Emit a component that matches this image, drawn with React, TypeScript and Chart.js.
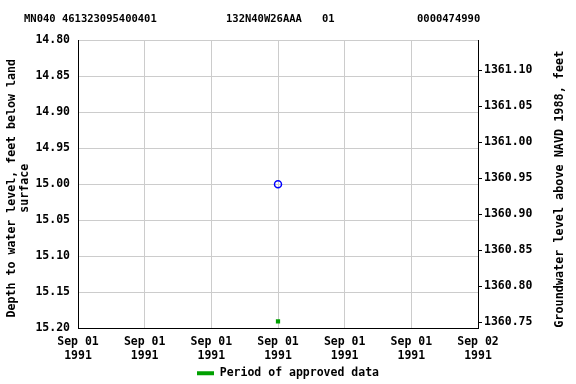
import React, { useEffect, useRef } from "react";
import { Chart, registerables } from "chart.js";

Chart.register(...registerables);

const headerParts = ["MN040 461323095400401", "132N40W26AAA", "01", "0000474990"];
const headerX = [24, 226, 322, 417];

const xTickHours = [0, 4, 8, 12, 16, 20, 24];
const xTickLabels = [
  ["Sep 01", "1991"],
  ["Sep 01", "1991"],
  ["Sep 01", "1991"],
  ["Sep 01", "1991"],
  ["Sep 01", "1991"],
  ["Sep 01", "1991"],
  ["Sep 02", "1991"],
];

const depthMin = 14.8;
const depthMax = 15.2;
const datumOffset = 1375.9417; // elevation = offset - depth
const rightTicks = [1360.75, 1360.8, 1360.85, 1360.9, 1360.95, 1361.0, 1361.05, 1361.1];
const leftTitle = ["Depth to water level, feet below land", "surface"];
const rightTitle = "Groundwater level above NAVD 1988, feet";

const measuredHours = [12];
const measuredDepths = [15.0];
const approvedHours = [12];
const approvedDepths = [15.19];

const FONT = "'DejaVu Sans Mono', monospace";
const FS = 11.5;

export default function App() {
  const ref = useRef<HTMLCanvasElement | null>(null);

  useEffect(() => {
    if (!ref.current) return;
    const textPlugin = {
      id: "extraText",
      afterDraw(chart: any) {
        const ctx = chart.ctx;
        const ca = chart.chartArea;
        const midY = (ca.top + ca.bottom) / 2;
        ctx.save();
        ctx.font = `bold 10.5px ${FONT}`;
        ctx.fillStyle = "#000";
        ctx.textBaseline = "middle";
        ctx.textAlign = "left";
        headerParts.forEach((t, i) => ctx.fillText(t, headerX[i], 19));
        ctx.textAlign = "center";
        // left axis title
        ctx.save();
        ctx.font = `bold 11.6px ${FONT}`;
        ctx.translate(12, midY + 4);
        ctx.rotate(-Math.PI / 2);
        ctx.fillText(leftTitle[0], 0, 0);
        ctx.fillText(leftTitle[1], 0, 13);
        ctx.restore();
        // right axis title
        ctx.font = `bold 11.8px ${FONT}`;
        ctx.translate(560, midY + 5);
        ctx.rotate(-Math.PI / 2);
        ctx.fillText(rightTitle, 0, 0);
        ctx.restore();
      },
    };

    const chart = new Chart(ref.current, {
      type: "scatter",
      data: {
        datasets: [
          {
            label: "Measured",
            data: measuredHours.map((h, i) => ({ x: h, y: measuredDepths[i] })),
            pointStyle: "circle",
            pointRadius: 3.5,
            pointBorderColor: "#0000ff",
            pointBackgroundColor: "rgba(0,0,0,0)",
            pointBorderWidth: 1.5,
            showLine: false,
          },
          {
            label: "Period of approved data",
            data: approvedHours.map((h, i) => ({ x: h, y: approvedDepths[i] })),
            pointStyle: "rect",
            pointRadius: 3,
            pointBorderWidth: 0,
            pointBackgroundColor: "#00a000",
            pointBorderColor: "#00a000",
            showLine: false,
          },
        ],
      },
      options: {
        responsive: false,
        animation: false,
        layout: { padding: { top: 40, left: 0, right: 0, bottom: -5 } },
        plugins: {
          tooltip: { enabled: false },
          title: { display: false },
          legend: {
            display: true,
            position: "bottom",
            labels: {
              font: { family: FONT, size: FS, weight: "bold" },
              color: "#000",
              boxWidth: 17,
              boxHeight: 4,
              padding: 1,
              generateLabels: () => [
                {
                  text: "Period of approved data",
                  fillStyle: "#00a000",
                  strokeStyle: "#00a000",
                  lineWidth: 0,
                  hidden: false,
                  datasetIndex: 1,
                },
              ],
            },
          },
        },
        scales: {
          x: {
            type: "linear",
            min: 0,
            max: 24,
            afterBuildTicks: (s: any) => {
              s.ticks = xTickHours.map((v) => ({ value: v }));
            },
            afterFit: (s: any) => {
              s.height = 38;
            },
            ticks: {
              autoSkip: false,
              maxRotation: 0,
              padding: 7,
              color: "#000",
              font: { family: FONT, size: FS, weight: "bold" },
              callback: (v: any) => {
                const i = xTickHours.indexOf(Number(v));
                return i >= 0 ? xTickLabels[i] : "";
              },
            },
            grid: { color: "#cccccc", drawTicks: false, lineWidth: 1 },
            border: { color: "#000", width: 1 },
          },
          y: {
            type: "linear",
            position: "left",
            reverse: true,
            min: depthMin,
            max: depthMax,
            afterFit: (s: any) => {
              s.width = 78;
            },
            ticks: {
              stepSize: 0.05,
              padding: 8,
              color: "#000",
              font: { family: FONT, size: FS, weight: "bold" },
              callback: (v: any) => Number(v).toFixed(2),
            },
            grid: { color: "#cccccc", drawTicks: false, lineWidth: 1 },
            border: { color: "#000", width: 1 },
          },
          y2: {
            type: "linear",
            position: "right",
            min: datumOffset - depthMax,
            max: datumOffset - depthMin,
            afterBuildTicks: (s: any) => {
              s.ticks = rightTicks.map((v) => ({ value: v }));
            },
            afterFit: (s: any) => {
              s.width = 98;
            },
            ticks: {
              padding: 2,
              color: "#000",
              font: { family: FONT, size: FS, weight: "bold" },
              callback: (v: any) => Number(v).toFixed(2),
            },
            grid: { drawOnChartArea: false, drawTicks: true, tickLength: 4, color: "#000" },
            border: { color: "#000", width: 1 },
          },
        },
      } as any,
      plugins: [textPlugin],
    });
    return () => chart.destroy();
  }, []);

  return (
    <div style={{ position: "absolute", left: 0, top: 0, width: 576, height: 384, background: "#fff" }}>
      <canvas ref={ref} width={576} height={384} />
    </div>
  );
}
